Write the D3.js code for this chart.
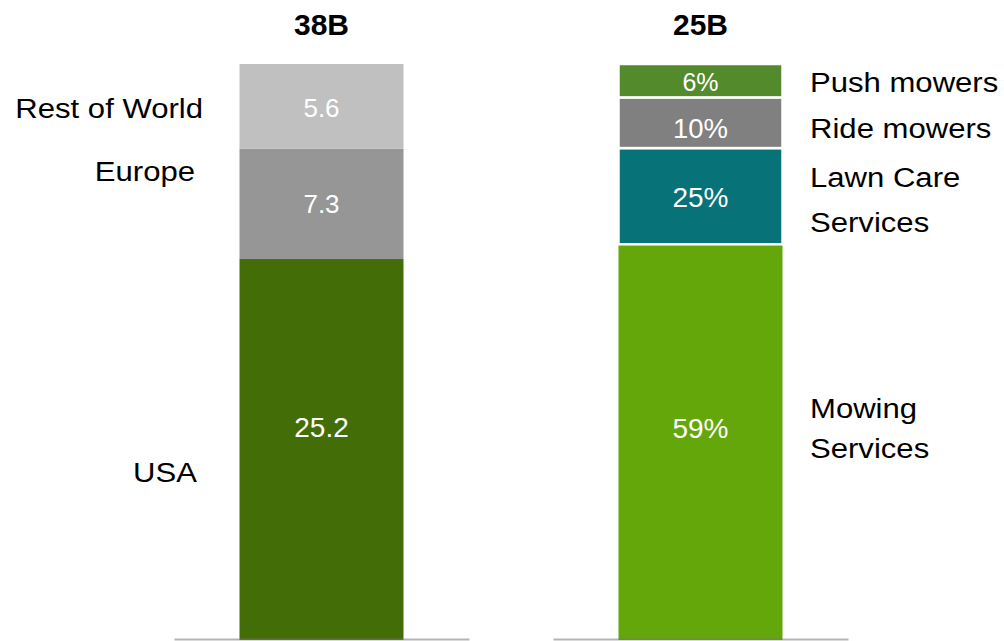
<!DOCTYPE html>
<html>
<head>
<meta charset="utf-8">
<script src="https://cdn.jsdelivr.net/npm/d3@7"></script>
<style>
  html, body { margin: 0; padding: 0; background: #fff; }
  svg { display: block; font-family: "Liberation Sans", Arial, sans-serif; }
</style>
</head>
<body>
<svg id="chart" width="1004" height="641"></svg>
<script>
// ---- data ----
const barTitles = ["38B", "25B"];

const leftCategories = ["USA", "Europe", "Rest of World"];
const leftValues = [25.2, 7.3, 5.6];           // billions
const leftColors = ["#436e07", "#969696", "#c0c0c0"];

const rightCategories = [["Mowing", "Services"], ["Lawn Care", "Services"], ["Ride mowers"], ["Push mowers"]];
const rightLabels = ["59%", "25%", "10%", "6%"];
const rightHeights = [68.7, 16.7, 8.8, 5.8];   // drawn segment shares
const rightColors = ["#64a70b", "#077277", "#808080", "#538a2b"];

// ---- layout ----
const svg = d3.select("#chart");
const x = d3.scalePoint().domain(barTitles).range([321.5, 700.5]);
const bw = 164;
const baseY = 640, topY = 64;
const STRETCH = 1.11;

const yLeft = d3.scaleLinear().domain([0, d3.sum(leftValues)]).range([baseY, topY]);
const yRight = d3.scaleLinear().domain([0, d3.sum(rightHeights)]).range([baseY, topY]);

function stackOf(vals) {
  let acc = 0;
  return vals.map(v => { const s = { y0: acc, y1: acc + v }; acc += v; return s; });
}

// ---- left bar ----
const lStack = stackOf(leftValues);
svg.append("g").selectAll("rect").data(lStack).join("rect")
  .attr("x", x(barTitles[0]) - bw / 2).attr("width", bw)
  .attr("y", d => yLeft(d.y1)).attr("height", d => yLeft(d.y0) - yLeft(d.y1))
  .attr("fill", (d, i) => leftColors[i]);

const leftValueBase = [437, 213, 117];
const leftValueSize = [28, 26, 26];
svg.append("g").selectAll("text").data(leftValues).join("text")
  .attr("x", x(barTitles[0])).attr("y", (d, i) => leftValueBase[i])
  .attr("text-anchor", "middle").attr("fill", "#fff")
  .attr("font-size", (d, i) => leftValueSize[i])
  .text(d => d3.format(".1f")(d));

const leftLabelPos = [[197, 482], [195, 181], [203, 118]];
svg.append("g").selectAll("text").data(leftCategories).join("text")
  .attr("transform", (d, i) => `translate(${leftLabelPos[i][0]},${leftLabelPos[i][1]}) scale(${STRETCH},1)`)
  .attr("text-anchor", "end").attr("fill", "#000").attr("font-size", 28)
  .text(d => d);

// ---- right bar ----
const rStack = stackOf(rightHeights);
svg.append("g").selectAll("rect").data(rStack).join("rect")
  .attr("x", x(barTitles[1]) - bw / 2).attr("width", bw)
  .attr("y", d => yRight(d.y1)).attr("height", d => yRight(d.y0) - yRight(d.y1))
  .attr("fill", (d, i) => rightColors[i])
  .attr("stroke", (d, i) => i === 0 ? "none" : "#fff")
  .attr("stroke-width", 2.5);

const rightValueBase = [438, 207, 138, 91];
const rightValueSize = [28, 28, 27.5, 25];
svg.append("g").selectAll("text").data(rightLabels).join("text")
  .attr("x", x(barTitles[1])).attr("y", (d, i) => rightValueBase[i])
  .attr("text-anchor", "middle").attr("fill", "#fff")
  .attr("font-size", (d, i) => rightValueSize[i])
  .text(d => d);

const rightLabelBase = [418, 187, 138, 92];
const rightLineGap = [40, 45, 0, 0];
const rl = svg.append("g").selectAll("g").data(rightCategories).join("g")
  .attr("transform", (d, i) => `translate(810,${rightLabelBase[i]}) scale(${STRETCH},1)`);
rl.each(function(d, i) {
  d3.select(this).selectAll("text").data(d).join("text")
    .attr("x", 0).attr("y", (t, j) => j * rightLineGap[i])
    .attr("fill", "#000").attr("font-size", 28)
    .text(t => t);
});

// ---- titles ----
svg.append("g").selectAll("text").data(barTitles).join("text")
  .attr("x", d => x(d)).attr("y", 35)
  .attr("text-anchor", "middle").attr("font-weight", "bold").attr("font-size", 30)
  .attr("fill", "#000").text(d => d);

// ---- baselines ----
svg.append("g").selectAll("line").data(barTitles).join("line")
  .attr("x1", d => x(d) - 147).attr("x2", d => x(d) + 148)
  .attr("y1", baseY - 0.5).attr("y2", baseY - 0.5)
  .attr("stroke", "rgba(120,120,120,0.55)").attr("stroke-width", 2);
</script>
</body>
</html>
